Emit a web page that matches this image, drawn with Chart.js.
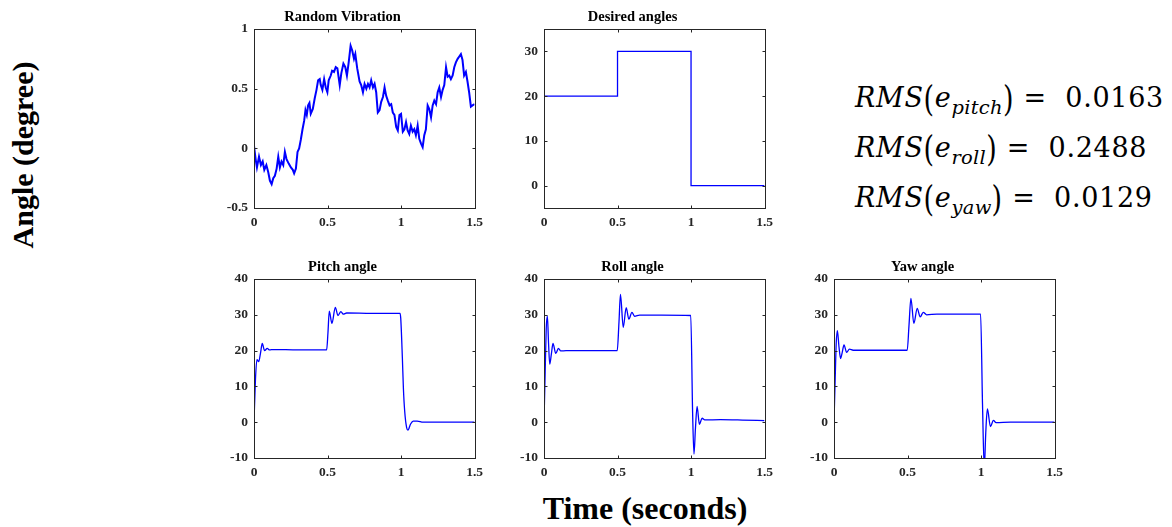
<!DOCTYPE html>
<html>
<head>
<meta charset="utf-8">
<script src="https://cdn.jsdelivr.net/npm/chart.js@4.4.1/dist/chart.umd.min.js"></script>
<style>
    html, body { margin: 0; padding: 0; background: #fff; }
    body { width: 1172px; height: 527px; position: relative; overflow: hidden; font-family: 'Liberation Serif', 'Times New Roman', serif; }
    .panel { position: absolute; width: 279px; height: 232px; }
    .label { position: absolute; font-weight: bold; color: #000; white-space: nowrap; line-height: 1; }
    #ylab { left: 22.5px; top: 155px; font-size: 30px; transform: translate(-50%, -50%) rotate(-90deg); }
    #xlab { left: 645px; top: 507.5px; font-size: 32px; transform: translate(-50%, -50%); }
    .rms { position: absolute; left: 855px; font-family: 'DejaVu Serif', serif; font-size: 27px; letter-spacing: 0.7px; white-space: nowrap; line-height: 1; color: #000; }
    .rms i { font-style: italic; }
    .rms .sub { position: relative; top: 7px; font-size: 0.72em; font-style: italic; letter-spacing: 0.3px; }
    .rms .par { display: inline-block; transform: scale(1, 1.3) translateY(1px); }
</style>
</head>
<body>

<div class="panel" style="left:210px; top:0px;"><canvas id="rvChart" width="279" height="232"></canvas></div>
<div class="panel" style="left:500px; top:0px;"><canvas id="desChart" width="279" height="232"></canvas></div>
<div class="panel" style="left:210px; top:250px;"><canvas id="pitchChart" width="279" height="232"></canvas></div>
<div class="panel" style="left:500px; top:250px;"><canvas id="rollChart" width="279" height="232"></canvas></div>
<div class="panel" style="left:790px; top:250px;"><canvas id="yawChart" width="279" height="232"></canvas></div>

<div class="label" id="ylab">Angle (degree)</div>
<div class="label" id="xlab">Time (seconds)</div>

<div class="rms" style="top:84px;"><i>RMS</i><span class="par">(</span><i>e</i><span class="sub">pitch</span><span class="par">)</span> =&nbsp; 0.0163</div>
<div class="rms" style="top:134px;"><i>RMS</i><span class="par">(</span><i>e</i><span class="sub">roll</span><span class="par">)</span> =&nbsp; 0.2488</div>
<div class="rms" style="top:184px;"><i>RMS</i><span class="par">(</span><i>e</i><span class="sub">yaw</span><span class="par">)</span> =&nbsp; 0.0129</div>

<script>
// -- DATA --
const timeTicks = [0, 0.5, 1, 1.5];
const rvTicks = [-0.5, 0, 0.5, 1];
const desTicks = [0, 10, 20, 30];
const angleTicks = [-10, 0, 10, 20, 30, 40];

// Random vibration
const rvTime = [
    0, 0.011, 0.02, 0.034, 0.047, 0.059, 0.07, 0.084, 0.097, 0.108,
    0.12, 0.131, 0.142, 0.154, 0.165, 0.176, 0.187, 0.199, 0.21, 0.221,
    0.237, 0.251, 0.264, 0.273, 0.285, 0.296, 0.307, 0.318, 0.33, 0.341,
    0.35, 0.359, 0.368, 0.377, 0.386, 0.4, 0.413, 0.425, 0.436, 0.447,
    0.454, 0.465, 0.477, 0.488, 0.499, 0.508, 0.522, 0.531, 0.544, 0.556,
    0.567, 0.583, 0.594, 0.608, 0.621, 0.632, 0.644, 0.657, 0.668, 0.68,
    0.689, 0.702, 0.718, 0.729, 0.741, 0.752, 0.764, 0.775, 0.786, 0.797,
    0.809, 0.82, 0.831, 0.842, 0.854, 0.865, 0.877, 0.888, 0.899, 0.91,
    0.922, 0.933, 0.944, 0.955, 0.967, 0.978, 0.989, 1.0, 1.012, 1.023,
    1.034, 1.045, 1.056, 1.067, 1.079, 1.09, 1.101, 1.113, 1.124, 1.136,
    1.147, 1.158, 1.169, 1.181, 1.192, 1.204, 1.215, 1.226, 1.238, 1.249,
    1.26, 1.272, 1.283, 1.294, 1.306, 1.317, 1.328, 1.339, 1.351, 1.362,
    1.373, 1.385, 1.396, 1.407, 1.418, 1.429, 1.441, 1.452, 1.463, 1.475,
    1.486, 1.5
];
const rvValue = [
    0.02, -0.09, -0.16, -0.07, -0.14, -0.11, -0.18, -0.14, -0.2, -0.27,
    -0.3, -0.25, -0.23, -0.17, -0.07, -0.16, -0.11, -0.14, -0.03, -0.09,
    -0.13, -0.16, -0.18, -0.21, -0.17, -0.03, 0.0, 0.07, 0.16, 0.23,
    0.32, 0.28, 0.36, 0.38, 0.29, 0.33, 0.42, 0.49, 0.57, 0.58,
    0.53, 0.49, 0.58, 0.51, 0.47, 0.57, 0.61, 0.65, 0.64, 0.68,
    0.67, 0.53, 0.63, 0.71, 0.68, 0.61, 0.72, 0.86, 0.82, 0.75,
    0.79, 0.67, 0.56, 0.53, 0.47, 0.54, 0.5, 0.54, 0.51, 0.57,
    0.51, 0.54, 0.47, 0.3, 0.32, 0.39, 0.43, 0.51, 0.44, 0.4,
    0.36, 0.37, 0.3, 0.28, 0.18, 0.15, 0.28, 0.29, 0.14, 0.16,
    0.22, 0.15, 0.12, 0.19, 0.14, 0.16, 0.11, 0.19, 0.08, 0.04,
    0.01, 0.11, 0.16, 0.36, 0.33, 0.26, 0.36, 0.4, 0.37, 0.47,
    0.51, 0.43, 0.49, 0.53, 0.68, 0.6, 0.61, 0.58, 0.61, 0.68,
    0.72, 0.75, 0.77, 0.79, 0.74, 0.61, 0.64, 0.56, 0.47, 0.35,
    0.36, 0.37
];

// Desired angles (step reference)
const desTime = [0, 0.5, 0.5, 1, 1, 1.5];
const desValue = [20, 20, 30, 30, 0, 0];

// Pitch response
const pitchTime = [0, 0.01, 0.02, 0.032, 0.045, 0.056, 0.072, 0.09, 0.106, 0.13, 0.3, 0.494,
    0.503, 0.512, 0.53, 0.553, 0.571, 0.591, 0.607, 0.63, 0.8, 0.993,
    0.998, 1.009, 1.016, 1.025, 1.038, 1.047, 1.065, 1.083, 1.11, 1.15, 1.3, 1.5];
const pitchValue = [0, 12, 17.5, 16.9, 19.5, 22.0, 20, 20.6, 20.2, 20.3, 20.2, 20.2,
    25, 31.0, 27.6, 32.1, 29.8, 30.9, 30.2, 30.5, 30.4, 30.4,
    29, 18, 9.5, 3, -1.5, -2.2, -0.5, 0.3, 0.3, 0, 0, 0];

// Roll response
const rollTime = [0, 0.008, 0.015, 0.023, 0.031, 0.039, 0.05, 0.061, 0.08, 0.098, 0.114, 0.15, 0.3, 0.498,
    0.51, 0.52, 0.539, 0.559, 0.577, 0.598, 0.616, 0.65, 0.8, 0.998,
    1.011, 1.02, 1.03, 1.041, 1.057, 1.075, 1.093, 1.2, 1.35, 1.5];
const rollValue = [0, 14, 26, 29.6, 22, 16.2, 19, 22, 19.2, 20.6, 19.9, 20, 20, 20,
    28, 35.7, 26.5, 32, 28.8, 30.7, 29.6, 29.9, 29.9, 29.8,
    2, -8.9, -1.7, 4.4, -0.6, 1.1, 0.65, 0.7, 0.6, 0.45];

// Yaw response
const yawTime = [0, 0.008, 0.015, 0.023, 0.034, 0.045, 0.056, 0.068, 0.086, 0.105, 0.13, 0.3, 0.498,
    0.51, 0.523, 0.543, 0.566, 0.586, 0.607, 0.63, 0.7, 0.85, 0.997,
    1.01, 1.022, 1.032, 1.043, 1.064, 1.084, 1.102, 1.2, 1.35, 1.5];
const yawValue = [0, 12, 22, 25.6, 21, 17.8, 19.5, 21.6, 19.5, 20.4, 20.1, 20.1, 20.1,
    27, 34.6, 27.6, 31.8, 29.4, 30.7, 30, 30.2, 30.2, 30.2,
    5, -13, -3, 3.7, -1.2, 0.5, -0.1, 0, 0, 0];

// -- CHART HELPERS --
const AXIS_COLOR = '#262626';
const LINE_COLOR = '#0000ff';
const FONT = 'Liberation Serif';

// box + inward tick marks on all four sides, like the original figure
const boxPlugin = {
    id: 'box',
    afterDatasetsDraw(chart) {
        const { ctx, chartArea: a, scales: { x, y } } = chart;
        const L = Math.round(a.left) + 0.5, R = Math.round(a.right) + 0.5;
        const T = Math.round(a.top) + 0.5, B = Math.round(a.bottom) + 0.5;
        ctx.save();
        ctx.strokeStyle = AXIS_COLOR;
        ctx.lineWidth = 1;
        ctx.beginPath();
        x.ticks.forEach(t => {
            const px = Math.round(x.getPixelForValue(t.value)) + 0.5;
            ctx.moveTo(px, B); ctx.lineTo(px, B - 3);
            ctx.moveTo(px, T); ctx.lineTo(px, T + 3);
        });
        y.ticks.forEach(t => {
            const py = Math.round(y.getPixelForValue(t.value)) + 0.5;
            ctx.moveTo(L, py); ctx.lineTo(L + 3, py);
            ctx.moveTo(R, py); ctx.lineTo(R - 3, py);
        });
        ctx.stroke();
        ctx.strokeRect(L, T, R - L, B - T);
        ctx.restore();
    }
};

function makeChart(id, title, times, values, yMin, yMax, yTicks, smooth, width) {
    const points = times.map((t, i) => ({ x: t, y: values[i] }));
    const tickFont = { family: FONT, size: 13.5, weight: 'bold' };
    return new Chart(document.getElementById(id), {
        type: 'line',
        data: {
            datasets: [{
                data: points,
                borderColor: LINE_COLOR,
                borderWidth: width,
                pointRadius: 0,
                tension: smooth ? 0.4 : 0,
                cubicInterpolationMode: smooth ? 'monotone' : 'default'
            }]
        },
        options: {
            responsive: false,
            animation: false,
            events: [],
            layout: { padding: { left: 0, right: 14, top: 0, bottom: 0 } },
            plugins: {
                legend: { display: false },
                tooltip: { enabled: false },
                title: {
                    display: true,
                    text: title,
                    color: '#000',
                    font: { family: FONT, size: 14.5, weight: 'bold', lineHeight: 1.2 },
                    padding: { top: 8.8, bottom: 2.8 }
                }
            },
            scales: {
                x: {
                    type: 'linear',
                    min: 0, max: 1.5,
                    grid: { display: false, drawTicks: false },
                    border: { display: false },
                    afterBuildTicks: s => { s.ticks = timeTicks.map(v => ({ value: v })); },
                    afterFit: s => { s.height = 24; },
                    ticks: { color: AXIS_COLOR, font: tickFont, padding: 6, maxRotation: 0, callback: v => String(v) }
                },
                y: {
                    type: 'linear',
                    min: yMin, max: yMax,
                    grid: { display: false, drawTicks: false },
                    border: { display: false },
                    afterBuildTicks: s => { s.ticks = yTicks.map(v => ({ value: v })); },
                    afterFit: s => { s.width = 44; },
                    ticks: { color: AXIS_COLOR, font: tickFont, padding: 6, callback: v => String(v) }
                }
            }
        },
        plugins: [boxPlugin]
    });
}

makeChart('rvChart', 'Random Vibration', rvTime, rvValue, -0.5, 1, rvTicks, false, 2);
makeChart('desChart', 'Desired angles', desTime, desValue, -5, 35, desTicks, false, 1.3);
makeChart('pitchChart', 'Pitch angle', pitchTime, pitchValue, -10, 40, angleTicks, true, 1.3);
makeChart('rollChart', 'Roll angle', rollTime, rollValue, -10, 40, angleTicks, true, 1.3);
makeChart('yawChart', 'Yaw angle', yawTime, yawValue, -10, 40, angleTicks, true, 1.3);
</script>
</body>
</html>
